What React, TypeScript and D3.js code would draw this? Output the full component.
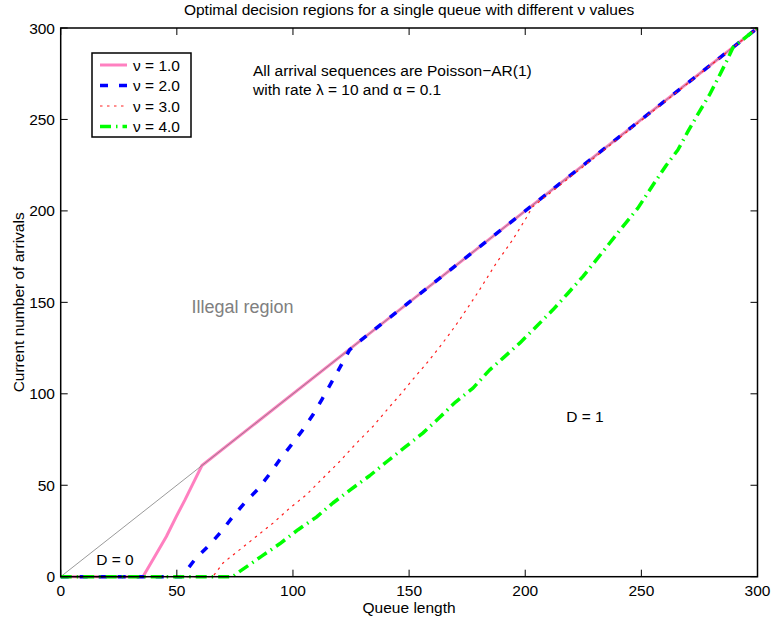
import React from "react";
import * as d3 from "d3";

// Decision boundaries (queue length, current arrivals) for each nu
const nu1X = [0, 35.4, 40.5, 45.5, 49.8, 53.5, 57, 60.8, 127, 200, 300];
const nu1Y = [0, 0, 11, 22, 33, 42, 51, 60.8, 127, 200, 300];

const nu2X = [0, 52, 54.5, 57.7, 64.1, 69.2, 74.2, 79.2, 84.9, 89.7, 94.3, 99.3, 104, 108.6, 112.5, 118.7, 124.4, 127.5, 200, 300];
const nu2Y = [0, 0, 4, 9.3, 17.5, 24.8, 33, 40.3, 47.9, 55.7, 63.9, 72.1, 79.9, 88.5, 97, 111, 124, 127.5, 200, 300];

const nu3X = [0, 65.5, 69.9, 77.1, 84.2, 91.4, 98.6, 105.8, 112.9, 120.1, 127.3, 134.4, 141, 146.5, 151.7, 157.5, 163.1, 167.5, 171.7, 176, 180.3, 187.5, 194.6, 200.4, 203, 300];
const nu3Y = [0, 0, 7.5, 14.8, 22, 29.3, 37.5, 44.8, 53.9, 63, 73, 82.1, 92, 100, 108, 116.6, 125.5, 132.9, 140.4, 148.5, 156.8, 171.4, 184.2, 196.1, 202, 300];

const nu4X = [0, 74, 77.1, 86.4, 94.3, 102.2, 110.1, 117.2, 125.1, 133, 140.9, 148.1, 155.9, 163.1, 170, 177.5, 184.7, 190.4, 197.6, 204.8, 211.9, 218.4, 224.8, 230.6, 236.3, 242, 248.5, 255, 260.8, 265.7, 270, 275, 279.3, 283, 286.6, 289.5, 300];
const nu4Y = [0, 0, 2.9, 11.1, 18, 25.7, 32.6, 40.3, 47.9, 55.2, 63.4, 70.7, 78.5, 87, 95.5, 103.1, 113.1, 119.5, 127.7, 136.8, 145.9, 155, 164.1, 173.2, 182.3, 191.4, 201.5, 214.2, 225.1, 233.3, 243.3, 254.3, 263.4, 272.5, 281.6, 289.5, 300];

// Boundary of the feasible region: arrivals never exceed queue length
const boundaryX = [0, 300];
const boundaryY = [0, 300];

const xTicks = [0, 50, 100, 150, 200, 250, 300];
const yTicks = [0, 50, 100, 150, 200, 250, 300];

const legendLabels = ["\u03bd = 1.0", "\u03bd = 2.0", "\u03bd = 3.0", "\u03bd = 4.0"];

const FONT = "'Liberation Sans', Arial, Helvetica, sans-serif";

const seriesStyles = [
  { color: "#ff80c0", width: 3, dash: "none" },
  { color: "#0000ff", width: 3.5, dash: "8,11" },
  { color: "#ff2020", width: 1.2, dash: "2.5,4.5" },
  { color: "#00ff00", width: 3.5, dash: "11,5,1.5,5" },
];

export default function App() {
  const W = 771;
  const H = 624;
  const x = d3.scaleLinear().domain([0, 300]).range([60.7, 757.5]);
  const y = d3.scaleLinear().domain([0, 300]).range([576.7, 28]);

  const toPts = (xs: number[], ys: number[]) => xs.map((v, i) => [v, ys[i]] as [number, number]);
  const line = d3
    .line<[number, number]>()
    .x((d) => x(d[0]))
    .y((d) => y(d[1]));

  const series = [
    toPts(nu1X, nu1Y),
    toPts(nu2X, nu2Y),
    toPts(nu3X, nu3Y),
    toPts(nu4X, nu4Y),
  ];

  const [x0, x1] = x.range();
  const [y0, y1] = y.range();
  const tickLen = 7;

  return (
    <svg
      width={W}
      height={H}
      style={{ position: "absolute", left: 0, top: 0, background: "#fff" }}
      fontFamily={FONT}
    >
      <rect x={0} y={0} width={W} height={H} fill="#fff" />

      {/* title */}
      <text x={(x0 + x1) / 2} y={15} textAnchor="middle" fontSize={15.5} fill="#000">
        Optimal decision regions for a single queue with different {"\u03bd"} values
      </text>

      {/* series lines */}
      <path d={line(series[0]) || ""} fill="none" stroke={seriesStyles[0].color} strokeWidth={seriesStyles[0].width} strokeLinejoin="round" />
      <path d={line(toPts(boundaryX, boundaryY)) || ""} fill="none" stroke="#808080" strokeWidth={0.8} />
      {series.slice(1).map((pts, i) => {
        const s = seriesStyles[i + 1];
        return (
          <path
            key={i}
            d={line(pts) || ""}
            fill="none"
            stroke={s.color}
            strokeWidth={s.width}
            strokeDasharray={s.dash}
            strokeLinejoin="round"
          />
        );
      })}

      {/* axes box */}
      <rect x={x0} y={y1} width={x1 - x0} height={y0 - y1} fill="none" stroke="#000" strokeWidth={1.5} />

      {/* x ticks */}
      {xTicks.map((t) => (
        <g key={"x" + t}>
          <line x1={x(t)} x2={x(t)} y1={y0} y2={y0 - tickLen} stroke="#000" strokeWidth={1} />
          <line x1={x(t)} x2={x(t)} y1={y1} y2={y1 + tickLen} stroke="#000" strokeWidth={1} />
          <text x={x(t)} y={596} textAnchor="middle" fontSize={15.5} fill="#000">
            {t}
          </text>
        </g>
      ))}

      {/* y ticks */}
      {yTicks.map((t) => (
        <g key={"y" + t}>
          <line x1={x0} x2={x0 + tickLen} y1={y(t)} y2={y(t)} stroke="#000" strokeWidth={1} />
          <line x1={x1} x2={x1 - tickLen} y1={y(t)} y2={y(t)} stroke="#000" strokeWidth={1} />
          <text x={55} y={y(t) + 5.5} textAnchor="end" fontSize={15.5} fill="#000">
            {t}
          </text>
        </g>
      ))}

      {/* axis labels */}
      <text x={(x0 + x1) / 2} y={613} textAnchor="middle" fontSize={15.5} fill="#000">
        Queue length
      </text>
      <text
        transform={`translate(24, ${(y0 + y1) / 2}) rotate(-90)`}
        textAnchor="middle"
        fontSize={15.5}
        fill="#000"
      >
        Current number of arrivals
      </text>

      {/* annotations */}
      <text x={253} y={76} fontSize={15.5} fill="#000">
        All arrival sequences are Poisson{"\u2212"}AR(1)
      </text>
      <text x={253} y={95} fontSize={15.5} fill="#000">
        with rate {"\u03bb"} = 10 and {"\u03b1"} = 0.1
      </text>
      <text x={242.5} y={313} textAnchor="middle" fontSize={18} fill="#808080">
        Illegal region
      </text>
      <text x={115} y={565} textAnchor="middle" fontSize={15.5} fill="#000">
        D = 0
      </text>
      <text x={585} y={422} textAnchor="middle" fontSize={15.5} fill="#000">
        D = 1
      </text>

      {/* legend */}
      <rect x={92} y={53} width={99} height={84} fill="#fff" stroke="#000" strokeWidth={1.5} />
      {legendLabels.map((lab, i) => {
        const s = seriesStyles[i];
        const by = 70.5 + i * 20.5;
        return (
          <g key={lab}>
            <line
              x1={100}
              x2={127}
              y1={by - 5.5}
              y2={by - 5.5}
              stroke={s.color}
              strokeWidth={s.width}
              strokeDasharray={s.dash}
            />
            <text x={133} y={by} fontSize={15.5} fill="#000">
              {lab}
            </text>
          </g>
        );
      })}
    </svg>
  );
}
